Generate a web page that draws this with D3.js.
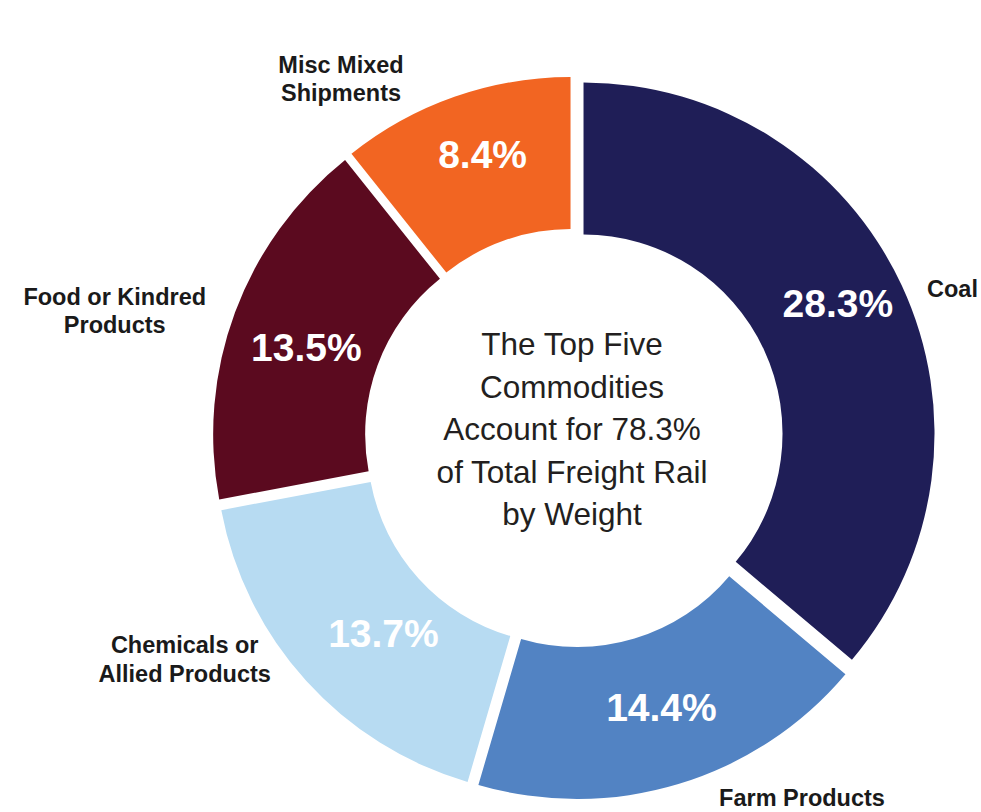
<!DOCTYPE html>
<html>
<head>
<meta charset="utf-8">
<script src="https://cdn.jsdelivr.net/npm/d3@7/dist/d3.min.js"></script>
<style>
  html, body { margin: 0; padding: 0; background: #ffffff; }
  svg { display: block; }
</style>
</head>
<body>
<svg id="chart" width="981" height="812"></svg>
<script>
// Share of total freight rail tonnage, top five commodity groups (percent)
const categories = ["Coal", "Farm Products", "Chemicals or Allied Products", "Food or Kindred Products", "Misc Mixed Shipments"];
const labelLines = [["Coal"], ["Farm Products"], ["Chemicals or", "Allied Products"], ["Food or Kindred", "Products"], ["Misc Mixed", "Shipments"]];
const shares = [28.3, 14.4, 13.7, 13.5, 8.4];
const colors = ["#1f1e57", "#5283c3", "#b7dbf2", "#5b0a1f", "#f26522"];

// Layout
const W = 981, H = 812;
const cx = 574, cy = 438;
const outerR = 351, innerR = 199;
const explode = 10.5;          // each slice pushed out along its bisector
const labelR = 381;            // anchor ring for category labels
// fine placement of each category label block relative to its anchor
const labelNudge = [[33, 11], [118, -5], [-107, -35], [-102, 5], [-107, 0]];
// fine placement of each percentage relative to its segment centroid
const valueNudge = [[5, -15], [5, -4], [21, 3], [0, 8], [3, -15]];

const total = d3.sum(shares);
const fmt = d3.format(".1f");
const centerLines = ["The Top Five", "Commodities", `Account for ${fmt(total)}%`, "of Total Freight Rail", "by Weight"];

const svg = d3.select("#chart");
const g = svg.append("g").attr("transform", `translate(${cx},${cy})`);

const pie = d3.pie().sort(null).value(d => d);
const arcs = pie(shares);
const arc = d3.arc().innerRadius(innerR).outerRadius(outerR);
const labelArc = d3.arc().innerRadius(labelR).outerRadius(labelR);
const mid = a => (a.startAngle + a.endAngle) / 2;
const shift = a => [Math.sin(mid(a)) * explode, -Math.cos(mid(a)) * explode];

const slices = g.selectAll("g.slice")
  .data(arcs)
  .join("g")
  .attr("class", "slice")
  .attr("transform", d => { const s = shift(d); return `translate(${s[0]},${s[1]})`; });

slices.append("path")
  .attr("d", arc)
  .attr("fill", (d, i) => colors[i]);

// percentage inside each ring segment
slices.append("text")
  .attr("transform", (d, i) => {
    const c = arc.centroid(d);
    return `translate(${c[0] + valueNudge[i][0]},${c[1] + valueNudge[i][1]})`;
  })
  .attr("text-anchor", "middle")
  .attr("dy", "0.36em")
  .attr("fill", "#ffffff")
  .attr("font-family", "'Liberation Sans', Arial, sans-serif")
  .attr("font-weight", "bold")
  .attr("font-size", 39)
  .text(d => fmt(d.data) + "%");

// category labels outside the ring
const lineH = 28.5;
g.selectAll("text.cat")
  .data(arcs)
  .join("text")
  .attr("class", "cat")
  .attr("text-anchor", "middle")
  .attr("font-family", "'Liberation Sans', Arial, sans-serif")
  .attr("font-weight", "bold")
  .attr("font-size", 23.5)
  .attr("fill", "#1a1a1a")
  .each(function (d, i) {
    const p = labelArc.centroid(d);
    const x = p[0] + labelNudge[i][0];
    const y = p[1] + labelNudge[i][1];
    const lines = labelLines[i];
    const top = y - (lines.length - 1) * lineH / 2;
    d3.select(this).selectAll("tspan")
      .data(lines)
      .join("tspan")
      .attr("x", x)
      .attr("y", (t, k) => top + k * lineH)
      .attr("dy", "0.36em")
      .text(t => t);
  });

// centre caption
const capH = 42.5;
const cap = g.append("text")
  .attr("text-anchor", "middle")
  .attr("font-family", "'Liberation Sans', Arial, sans-serif")
  .attr("font-size", 31.5)
  .attr("fill", "#231f20");
cap.selectAll("tspan")
  .data(centerLines)
  .join("tspan")
  .attr("x", -2)
  .attr("y", (t, k) => (k - (centerLines.length - 1) / 2) * capH + 2)
  .text(t => t);
</script>
</body>
</html>
